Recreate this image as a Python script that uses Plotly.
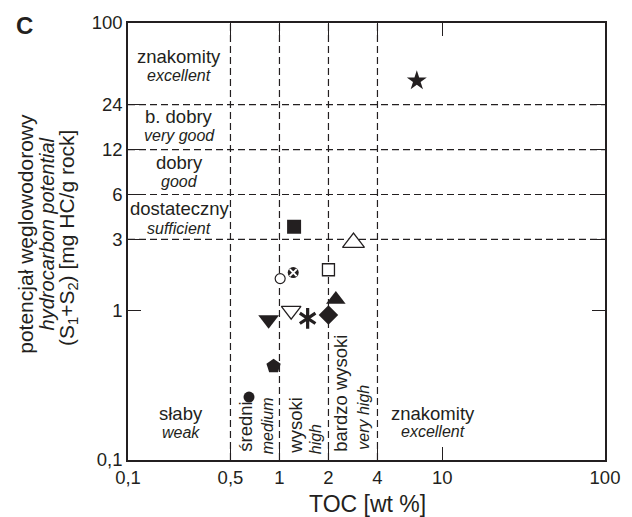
import numpy as np
import plotly.graph_objects as go

# ---------------- data ----------------
# samples: TOC [wt %] and S1+S2 [mg HC/g rock]
sample_toc = [1.23, 2.85, 1.01, 1.215, 2.0, 2.22, 2.0, 1.49, 1.18, 0.858, 0.92, 0.65, 6.98]
sample_s1s2 = [3.65, 2.86, 1.64, 1.80, 1.88, 1.19, 0.936, 0.889, 1.0, 0.87, 0.425, 0.264, 34.7]

# class boundaries
toc_bounds = [0.5, 1, 2, 4]
pot_bounds = [3, 6, 12, 24]

# tick labels
x_tick_vals = [0.5, 1, 2, 4, 10, 100]
x_tick_text = ["0,5", "1", "2", "4", "10", "100"]
y_tick_vals = [0.1, 1, 3, 6, 12, 24]
y_tick_text = ["0,1", "1", "3", "6", "12", "24"]

# class labels
pot_labels_pl = ["znakomity", "b. dobry", "dobry", "dostateczny"]
pot_labels_en = ["excellent", "very good", "good", "sufficient"]
toc_labels_pl = ["słaby", "średni", "wysoki", "bardzo wysoki", "znakomity"]
toc_labels_en = ["weak", "medium", "high", "very high", "excellent"]

# ---------------- styles ----------------
BLACK = "#231f20"
FONT = "Arial, Liberation Sans, sans-serif"
# the printed frame compresses its first x decade and last y decade:
X_RANGE = [-0.9305, 2.0]   # log10
Y_RANGE = [-1.0, 1.927]    # log10

W, H = 632, 517
L, R, T, B = 128, 19, 21, 57
PW, PH = W - L - R, H - T - B


def px(x):
    return (x - L) / PW


def py(y):
    return (H - B - y) / PH


marker_styles = [
    dict(symbol="square", color=BLACK, size=14, lw=0),
    dict(symbol="triangle-up", color="white", size=19, lw=1.3),
    dict(symbol="circle", color="white", size=10, lw=1.2),
    dict(symbol="circle", color=BLACK, size=11, lw=0, overlay=("x-thin-open", "white", 7, 2)),
    dict(symbol="square", color="white", size=12, lw=1.3),
    dict(symbol="triangle-up", color=BLACK, size=17, lw=0),
    dict(symbol="diamond", color=BLACK, size=15, lw=0),
    dict(symbol="y-up-open", color=BLACK, size=13, lw=3.2, overlay=("y-down-open", BLACK, 13, 3.2)),
    dict(symbol="triangle-down", color="white", size=17, lw=1.3),
    dict(symbol="triangle-down", color=BLACK, size=18, lw=0),
    dict(symbol="pentagon", color=BLACK, size=15, lw=0),
    dict(symbol="circle", color=BLACK, size=11, lw=0),
    dict(symbol="star", color=BLACK, size=15, lw=0),
]

fig = go.Figure()

x_lo, x_hi = 10 ** X_RANGE[0], 10 ** X_RANGE[1]
y_lo, y_hi = 10 ** Y_RANGE[0], 10 ** Y_RANGE[1]
dash = dict(color=BLACK, width=1.2, dash="7px,4px")
for b in toc_bounds:
    fig.add_trace(go.Scatter(x=[b, b], y=[y_lo, y_hi], mode="lines", line=dash,
                             hoverinfo="skip", showlegend=False))
for b in pot_bounds:
    fig.add_trace(go.Scatter(x=[x_lo, x_hi], y=[b, b], mode="lines", line=dash,
                             hoverinfo="skip", showlegend=False))

for xv, yv, st in zip(sample_toc, sample_s1s2, marker_styles):
    fig.add_trace(go.Scatter(
        x=[xv], y=[yv], mode="markers", showlegend=False,
        marker=dict(symbol=st["symbol"], color=st["color"], size=st["size"],
                    line=dict(color=BLACK, width=st["lw"]))))
    if "overlay" in st:
        sym, col, sz, w = st["overlay"]
        fig.add_trace(go.Scatter(
            x=[xv], y=[yv], mode="markers", showlegend=False,
            marker=dict(symbol=sym, color=col, size=sz, line=dict(color=col, width=w))))

ann = []


def text(x, y, s, size, italic=False, angle=0, bold=False):
    if italic:
        s = "<i>" + s + "</i>"
    if bold:
        s = "<b>" + s + "</b>"
    ann.append(dict(x=px(x), y=py(y), xref="paper", yref="paper", text=s, showarrow=False,
                    xanchor="center", yanchor="middle", textangle=angle,
                    font=dict(family=FONT, size=size, color=BLACK)))


# potential classes (left column)
pot_y = [(55, 74), (115, 134), (160.7, 180), (207.3, 227.7)]
for (y1, y2), pl, en in zip(pot_y, pot_labels_pl, pot_labels_en):
    text(180, y1, pl, 18.5)
    text(180, y2, en, 16, italic=True)

# TOC classes (bottom row)
text(181.5, 413, toc_labels_pl[0], 18.5)
text(182, 432, toc_labels_en[0], 16, italic=True)
text(247.5, 427, toc_labels_pl[1], 18.5, angle=-90)
text(270, 425.5, toc_labels_en[1], 16, italic=True, angle=-90)
text(298.3, 425, toc_labels_pl[2], 18.5, angle=-90)
text(318.3, 439, toc_labels_en[2], 16, italic=True, angle=-90)
text(344, 393, toc_labels_pl[3], 18.5, angle=-90)
text(367.5, 417, toc_labels_en[3], 16, italic=True, angle=-90)
text(437.7, 413.3, toc_labels_pl[4], 18.5)
text(437.7, 431.7, toc_labels_en[4], 16, italic=True)

# axis titles
text(23, 233, "potencjał węglowodorowy", 21, angle=-90)
text(46, 233, "hydrocarbon potential", 20, italic=True, angle=-90)
text(67, 237, "(S<sub>1</sub>+S<sub>2</sub>) [mg HC/g rock]", 21, angle=-90)
text(372, 504, "TOC [wt %]", 23)
text(23, 24, "C", 24, bold=True)

fig.update_layout(
    width=W, height=H, margin=dict(l=L, r=R, t=T, b=B),
    paper_bgcolor="white", plot_bgcolor="white", showlegend=False,
    annotations=ann,
    font=dict(family=FONT, color=BLACK),
)
fig.update_xaxes(type="log", range=X_RANGE, showgrid=False, zeroline=False,
                 showline=True, linecolor=BLACK, linewidth=1.6, mirror="ticks",
                 ticks="inside", ticklen=13, tickwidth=1.3, tickcolor=BLACK,
                 tickvals=[x_lo] + x_tick_vals, ticktext=["0,1"] + x_tick_text,
                 tickfont=dict(size=18.5, family=FONT, color=BLACK))
fig.update_yaxes(type="log", range=Y_RANGE, showgrid=False, zeroline=False,
                 showline=True, linecolor=BLACK, linewidth=1.6, mirror="ticks",
                 ticks="inside", ticklen=13, tickwidth=1.3, tickcolor=BLACK,
                 tickvals=y_tick_vals + [y_hi], ticktext=y_tick_text + ["100"],
                 tickfont=dict(size=18.5, family=FONT, color=BLACK))

fig.write_html("out.html")
